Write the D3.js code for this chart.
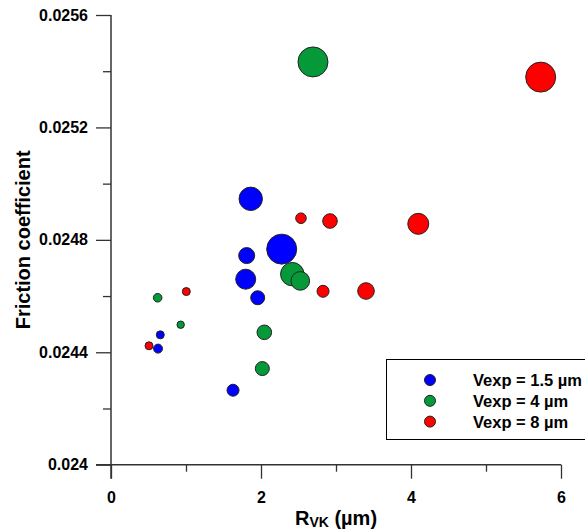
<!DOCTYPE html>
<html>
<head>
<meta charset="utf-8">
<script src="https://cdn.jsdelivr.net/npm/d3@7"></script>
<style>
  html, body { margin: 0; padding: 0; background: #fff; }
  svg { display: block; font-family: "Liberation Sans", Arial, sans-serif; }
</style>
</head>
<body>
<div id="chart"></div>
<script>
// Rvk vs friction coefficient, one series per Vexp value; bubble size is
// a third variable.
const seriesNames = ["Vexp = 1.5 µm", "Vexp = 4 µm", "Vexp = 8 µm"];
const seriesColors = ["#0000ff", "#06993a", "#ff0000"];

const blueRvk = [1.863, 2.276, 1.809, 1.796, 1.956, 0.657, 0.627, 1.627];
const blueMu = [0.024946, 0.024767, 0.024744, 0.024660, 0.024594, 0.024462, 0.024413, 0.024265];
const blueSize = [11.7, 15, 8, 10, 7, 4, 4.5, 6];

const greenRvk = [2.693, 2.417, 2.524, 0.622, 0.929, 2.044, 2.018];
const greenMu = [0.025433, 0.024678, 0.024654, 0.024594, 0.024498, 0.024471, 0.024342];
const greenSize = [15, 11.7, 9.3, 4.3, 3.7, 7.3, 7];

const redRvk = [5.729, 2.533, 2.920, 4.097, 2.827, 3.400, 1.004, 0.507];
const redMu = [0.025379, 0.024877, 0.024867, 0.024857, 0.024617, 0.024618, 0.024616, 0.024423];
const redSize = [15, 5.3, 7.3, 10.5, 6, 8.3, 4, 4];

const xMajor = [0, 2, 4, 6];
const xMinor = [1, 3, 5];
const yMajor = [0.024, 0.0244, 0.0248, 0.0252, 0.0256];
const yMinor = [0.0242, 0.0246, 0.025, 0.0254];
const yLabels = ["0.024", "0.0244", "0.0248", "0.0252", "0.0256"];

const width = 585, height = 531;
const m = { top: 15, right: 24, bottom: 66.3, left: 111 };

const svg = d3.select("#chart").append("svg")
  .attr("width", width).attr("height", height);

const x = d3.scaleLinear().domain([0, 6]).range([m.left, width - m.right]);
const y = d3.scaleLinear().domain([0.024, 0.0256]).range([height - m.bottom, m.top]);
const r = d3.scaleLinear().domain([0, 15]).range([0, 15]);

const axisColor = "#333";
const y0 = y(0.024);

// axes: left line runs down past the x axis, bottom line runs left past the y axis
const gy = svg.append("g").attr("transform", `translate(${m.left},0)`);
gy.call(d3.axisLeft(y).tickValues(yMajor).tickSize(15).tickPadding(8)
  .tickFormat((d, i) => yLabels[i]));
gy.call((g) => g.select(".domain").remove());
gy.selectAll("line").attr("stroke", axisColor).attr("stroke-width", 1.3);
gy.selectAll("text").attr("fill", "#000").style("font-size", "16px").style("font-weight", "bold");
const gyMinor = svg.append("g").attr("transform", `translate(${m.left},0)`);
gyMinor.call(d3.axisLeft(y).tickValues(yMinor).tickSize(8).tickFormat(""));
gyMinor.call((g) => g.select(".domain").remove());
gyMinor.selectAll("line").attr("stroke", axisColor).attr("stroke-width", 1.3);

const gx = svg.append("g").attr("transform", `translate(0,${y0})`);
gx.call(d3.axisBottom(x).tickValues(xMajor).tickSize(14).tickPadding(13).tickFormat(d3.format("d")));
gx.call((g) => g.select(".domain").remove());
gx.selectAll("line").attr("stroke", axisColor).attr("stroke-width", 1.3);
gx.selectAll("text").attr("fill", "#000").style("font-size", "16px").style("font-weight", "bold");
const gxMinor = svg.append("g").attr("transform", `translate(0,${y0})`);
gxMinor.call(d3.axisBottom(x).tickValues(xMinor).tickSize(7).tickFormat(""));
gxMinor.call((g) => g.select(".domain").remove());
gxMinor.selectAll("line").attr("stroke", axisColor).attr("stroke-width", 1.3);

svg.append("line")
  .attr("x1", m.left).attr("x2", m.left)
  .attr("y1", y(0.0256)).attr("y2", y0 + 14)
  .attr("stroke", axisColor).attr("stroke-width", 1.5);
svg.append("line")
  .attr("x1", m.left - 15).attr("x2", x(6))
  .attr("y1", y0).attr("y2", y0)
  .attr("stroke", axisColor).attr("stroke-width", 1.5);

// axis titles
svg.append("text")
  .attr("transform", `translate(30,${(y(0.0256) + y0) / 2}) rotate(-90)`)
  .attr("text-anchor", "middle")
  .style("font-size", "20px").style("font-weight", "bold")
  .text("Friction coefficient");

const xt = svg.append("text")
  .attr("x", 336).attr("y", 525)
  .attr("text-anchor", "middle")
  .style("font-size", "20px").style("font-weight", "bold");
xt.append("tspan").text("R");
xt.append("tspan").attr("dy", 2).style("font-size", "14px").text("VK");
xt.append("tspan").attr("dy", -2).text(" (µm)");

// bubbles
const series = [
  { xs: blueRvk, ys: blueMu, ss: blueSize },
  { xs: greenRvk, ys: greenMu, ss: greenSize },
  { xs: redRvk, ys: redMu, ss: redSize },
];
series.forEach((s, k) => {
  const pts = s.xs.map((v, i) => ({ x: v, y: s.ys[i], s: s.ss[i] }));
  svg.append("g").selectAll("circle").data(pts).join("circle")
    .attr("cx", (d) => x(d.x))
    .attr("cy", (d) => y(d.y))
    .attr("r", (d) => r(d.s))
    .attr("fill", seriesColors[k])
    .attr("stroke", "#222")
    .attr("stroke-width", 1);
});

// legend
const lg = svg.append("g");
lg.append("rect")
  .attr("x", 386.5).attr("y", 359.5)
  .attr("width", 220).attr("height", 80)
  .attr("fill", "#fff").attr("stroke", "#000").attr("stroke-width", 1);
seriesNames.forEach((name, i) => {
  const cy = 380 + i * 20.8;
  lg.append("circle")
    .attr("cx", 430).attr("cy", cy).attr("r", 5.5)
    .attr("fill", seriesColors[i]).attr("stroke", "#222").attr("stroke-width", 1);
  lg.append("text")
    .attr("x", 473).attr("y", cy).attr("dy", "0.36em")
    .style("font-size", "16.5px").style("font-weight", "bold")
    .text(name);
});
</script>
</body>
</html>
